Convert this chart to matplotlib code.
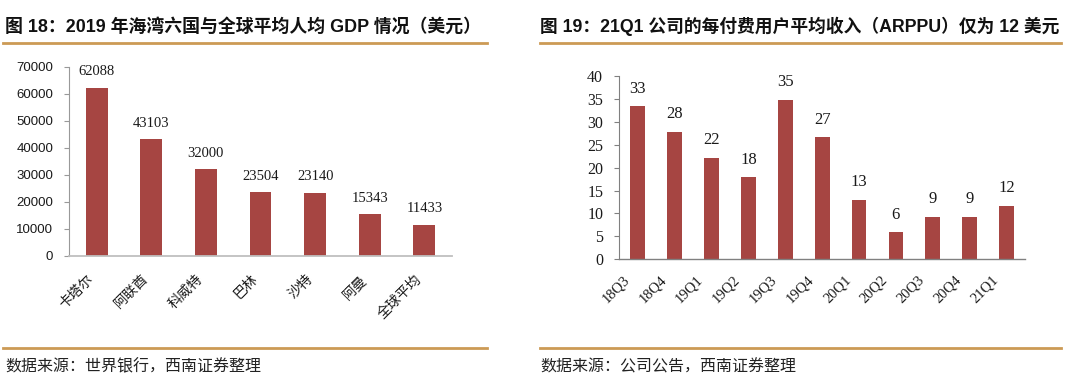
import matplotlib
matplotlib.use("Agg")
import matplotlib.pyplot as plt
from matplotlib.lines import Line2D

# ---- data ----
left_categories = ['卡塔尔', '阿联酋', '科威特', '巴林', '沙特', '阿曼', '全球平均']
left_values = [62088, 43103, 32000, 23504, 23140, 15343, 11433]
left_yticks = [0, 10000, 20000, 30000, 40000, 50000, 60000, 70000]

right_categories = ['18Q3', '18Q4', '19Q1', '19Q2', '19Q3', '19Q4',
                    '20Q1', '20Q2', '20Q3', '20Q4', '21Q1']
right_values = [33.4, 27.8, 22.2, 17.9, 34.8, 26.6, 12.9, 5.9, 9.2, 9.2, 11.6]
right_labels = ['33', '28', '22', '18', '35', '27', '13', '6', '9', '9', '12']
right_yticks = [0, 5, 10, 15, 20, 25, 30, 35, 40]

left_title = '图 18：2019 年海湾六国与全球平均人均 GDP 情况（美元）'
right_title = '图 19：21Q1 公司的每付费用户平均收入（ARPPU）仅为 12 美元'
left_source = '数据来源：世界银行，西南证券整理'
right_source = '数据来源：公司公告，西南证券整理'

BAR = '#A64542'
GOLD = '#CC9A55'
CJK = ['Noto Sans CJK SC', 'DejaVu Sans']
SANS_CJK = ['Liberation Sans', 'Noto Sans CJK SC']
SERIF = ['Liberation Serif', 'DejaVu Serif']

W, H = 1080, 389
fig = plt.figure(figsize=(W / 100, H / 100), dpi=100)


def style_axes(ax, spine_left, spine_bottom, bottom_lw=1.0):
    for s in ['top', 'right']:
        ax.spines[s].set_visible(False)
    ax.spines['left'].set_color(spine_left)
    ax.spines['bottom'].set_color(spine_bottom)
    ax.spines['bottom'].set_linewidth(bottom_lw)
    ax.tick_params(axis='x', length=0, labelbottom=False)
    ax.tick_params(axis='y', length=3.6, width=0.8, color=spine_left, pad=8)


# ---- left chart ----
axL = fig.add_axes([69.3 / W, 1 - 255.7 / H, (451.7 - 69.3) / W, (255.7 - 66.7) / H])
xl = list(range(len(left_categories)))
axL.bar(xl, left_values, width=0.4, color=BAR, zorder=2)
axL.set_xlim(-0.5, len(left_categories) - 0.5)
axL.set_ylim(0, 70000)
axL.set_yticks(left_yticks)
axL.set_yticklabels([str(v) for v in left_yticks], family=['Liberation Sans'],
                    fontsize=9.5, color='#1a1a1a')
axL.set_xticks(xl)
style_axes(axL, '#999999', '#BFBFBF', 1.3)
for x, lab in zip(xl, left_categories):
    axL.annotate(lab, (x, 0), xycoords=axL.get_xaxis_transform(),
                 xytext=(-3.6, -15.5), textcoords='offset points',
                 rotation=45, ha='right', va='center', rotation_mode='anchor',
                 family=CJK, fontsize=10, color='#1a1a1a')
for x, v in zip(xl, left_values):
    axL.annotate(str(v), (x, v), xytext=(0, 7), textcoords='offset points',
                 ha='center', va='bottom', family=SERIF, fontsize=10.5, color='#1a1a1a')

# ---- right chart ----
axR = fig.add_axes([619.3 / W, 1 - 259.3 / H, (1025 - 619.3) / W, (259.3 - 76) / H])
xr = list(range(len(right_categories)))
axR.bar(xr, right_values, width=0.4, color=BAR, zorder=2)
axR.set_xlim(-0.5, len(right_categories) - 0.5)
axR.set_ylim(0, 40)
axR.set_yticks(right_yticks)
axR.set_yticklabels([str(v) for v in right_yticks], family=SERIF, fontsize=11.5, color='#1a1a1a')
axR.set_xticks(xr)
style_axes(axR, '#808080', '#808080', 1.0)
for x, lab in zip(xr, right_categories):
    axR.annotate(lab, (x, 0), xycoords=axR.get_xaxis_transform(),
                 xytext=(-7.5, -13.5), textcoords='offset points',
                 rotation=45, ha='right', va='center', rotation_mode='anchor',
                 family=SERIF, fontsize=10.5, color='#1a1a1a')
for x, v, lab in zip(xr, right_values, right_labels):
    axR.annotate(lab, (x, v), xytext=(0, 7), textcoords='offset points',
                 ha='center', va='bottom', family=SERIF, fontsize=12, color='#1a1a1a')

# ---- titles, rules, sources ----
fig.text(5 / W, 1 - 26.7 / H, left_title, family=SANS_CJK, fontweight='bold',
         fontsize=12.9, ha='left', va='center', color='#111111')
fig.text(540 / W, 1 - 26.7 / H, right_title, family=SANS_CJK, fontweight='bold',
         fontsize=12.75, ha='left', va='center', color='#111111')

for (x0, x1) in [(3, 487), (540, 1061)]:
    for yy in (43.3, 348):
        fig.add_artist(Line2D([x0 / W, x1 / W], [1 - yy / H, 1 - yy / H],
                              transform=fig.transFigure, color=GOLD, lw=2))

fig.text(5 / W, 1 - 367 / H, left_source, family=CJK, fontsize=11.5,
         ha='left', va='center', color='#222222', style='italic')
fig.text(540 / W, 1 - 367 / H, right_source, family=CJK, fontsize=11.5,
         ha='left', va='center', color='#222222', style='italic')

fig.savefig('out.png', dpi=100, facecolor='white')
